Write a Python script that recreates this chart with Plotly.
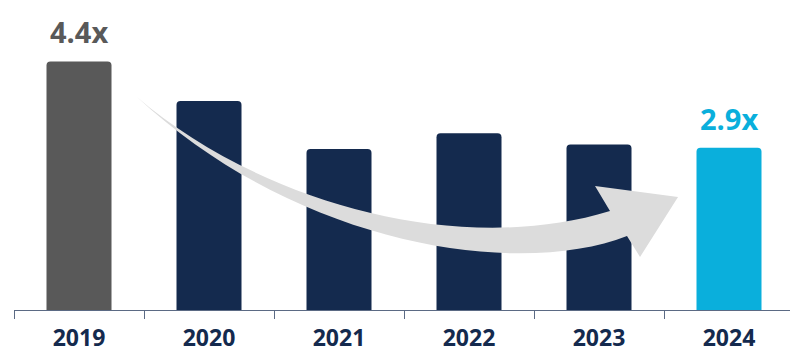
import plotly.graph_objects as go

years = ["2019", "2020", "2021", "2022", "2023", "2024"]
values = [4.4, 3.7, 2.85, 3.13, 2.93, 2.87]
bar_colors = ["#595959", "#142A4E", "#142A4E", "#142A4E", "#142A4E", "#0AAFDC"]
value_labels = ["4.4x", None, None, None, None, "2.9x"]
label_colors = ["#595959", None, None, None, None, "#0AAFDC"]

# page body has an 8px default margin; compensate
OFF = 8
W, H = 798 - OFF, 362 - OFF
ML, MR, MT, MB = 14 - OFF, 4, 10 - OFF, 52
PW, PH = W - ML - MR, H - MT - MB

def P(x, y):
    # x, y are page pixel positions
    a = (x - OFF - ML) / PW
    b = (OFF + H - MB - y) / PH
    return f"{a:.4f},{b:.4f}"

arrow_path = (
    "M " + P(137, 97)
    + " C " + P(250, 195) + " " + P(450, 260) + " " + P(610, 211)
    + " L " + P(595, 186)
    + " L " + P(678, 197)
    + " L " + P(640, 257)
    + " L " + P(627, 236)
    + " C " + P(520, 278) + " " + P(300, 248) + " " + P(137, 97)
    + " Z"
)

fig = go.Figure(go.Bar(
    x=years, y=values, marker=dict(color=bar_colors, line=dict(width=0)),
    hoverinfo="skip",
))

annotations = []
for i, (v, lab, col) in enumerate(zip(values, value_labels, label_colors)):
    if lab:
        annotations.append(dict(
            x=i, y=v, xref="x", yref="y", text=f"<b>{lab}</b>", showarrow=False,
            yanchor="bottom", yshift=8,
            font=dict(family="Open Sans", size=29, color=col),
        ))

fig.update_layout(
    width=W, height=H,
    margin=dict(l=ML, r=MR, t=MT, b=MB, autoexpand=False),
    paper_bgcolor="white", plot_bgcolor="white",
    bargap=0.5, barcornerradius=4,
    showlegend=False,
    annotations=annotations,
    shapes=[dict(type="path", path=arrow_path, xref="paper", yref="paper",
                 fillcolor="#DCDCDC", line=dict(width=0), layer="above")],
    xaxis=dict(
        type="category", range=[-0.5, len(years) - 0.5],
        showline=True, linecolor="#5B6A84", linewidth=1,
        ticks="outside", tickson="boundaries", ticklen=8, tickcolor="#5B6A84",
        tickfont=dict(family="Open Sans", size=23, color="#142A4E", weight="bold"),
        ticklabelstandoff=7,
        tickangle=0, showgrid=False, zeroline=False, automargin=False,
    ),
    yaxis=dict(range=[0, PH / 56.5], visible=False, showgrid=False, zeroline=False),
)

fig.write_html("out.html")
